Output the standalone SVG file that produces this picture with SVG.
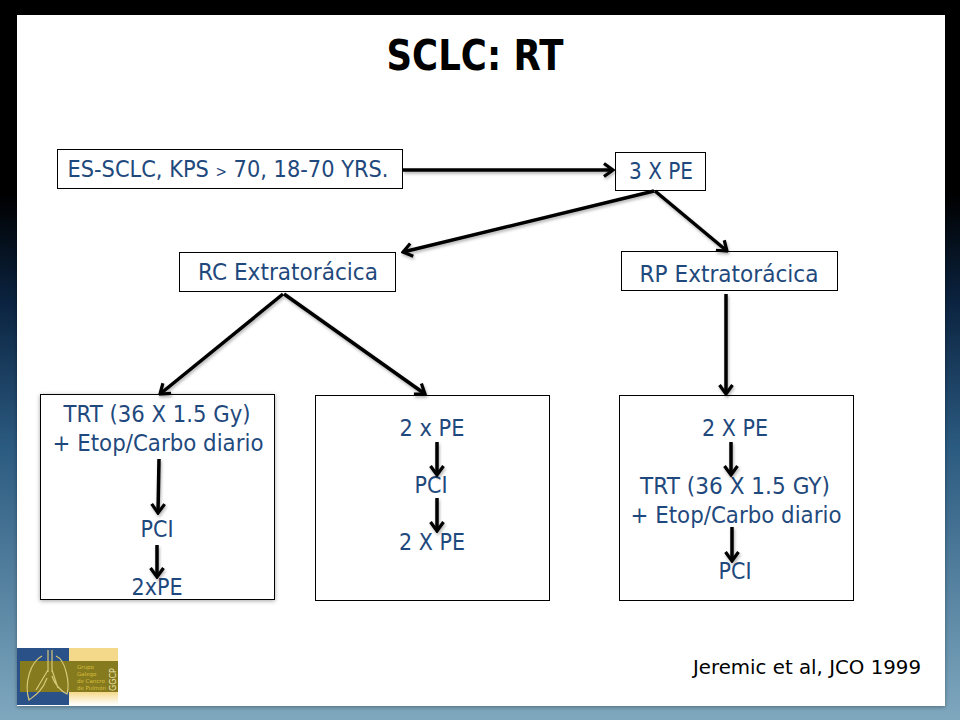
<svg xmlns="http://www.w3.org/2000/svg" width="960" height="720" viewBox="0 0 960 720">
<defs>
<linearGradient id="bg" x1="0" y1="0" x2="0" y2="1">
<stop offset="0" stop-color="#000"/><stop offset="0.27" stop-color="#000"/><stop offset="0.42" stop-color="#0b2340"/><stop offset="0.62" stop-color="#2b5a80"/><stop offset="1" stop-color="#7fa8bf"/>
</linearGradient>
<linearGradient id="logoFade" x1="0" y1="0" x2="0" y2="1"><stop offset="0" stop-color="#f5d98a"/><stop offset="1" stop-color="#fff"/></linearGradient>
<filter id="sh" x="-5%" y="-5%" width="110%" height="110%"><feDropShadow dx="0" dy="1" stdDeviation="2" flood-color="#000" flood-opacity="0.35"/></filter>
<filter id="ash" x="-30%" y="-30%" width="160%" height="160%"><feDropShadow dx="1" dy="2" stdDeviation="1.500" flood-color="#000" flood-opacity="0.3"/></filter>
<marker id="arr" viewBox="0 0 16 16" refX="14" refY="8" markerWidth="16" markerHeight="16" markerUnits="userSpaceOnUse" orient="auto">
<path d="M5 1.500 L14 8 L5 14.500" fill="none" stroke="#000" stroke-width="3.200"/>
</marker>
</defs>
<style>
.b{fill:#fff;stroke:#000;stroke-width:1}
.t{font-family:"DejaVu Sans","Noto Sans",sans-serif;font-size:23px;fill:#1f497d;text-anchor:middle}
.c{fill:none;stroke:#000;stroke-width:3.500;marker-end:url(#arr)}
.l{fill:none;stroke:#d8c878;stroke-width:1.200}
</style>
<rect width="960" height="720" fill="url(#bg)"/>
<rect x="17" y="15" width="928" height="691" fill="#fff" filter="url(#sh)"/>
<text x="475" y="70" font-family="'DejaVu Sans',sans-serif" font-weight="700" font-size="42" text-anchor="middle" textLength="177" lengthAdjust="spacingAndGlyphs" fill="#000">SCLC: RT</text>

<g id="n-es"><rect class="b" x="57.500" y="149.500" width="345" height="39"/><text class="t" x="228" y="177" textLength="321" lengthAdjust="spacingAndGlyphs">ES-SCLC, KPS <tspan font-size="15">&gt;</tspan> 70, 18-70 YRS.</text></g>
<g id="n-3xpe"><rect class="b" x="615.500" y="152.500" width="90" height="38"/><text class="t" x="661" y="179" textLength="64" lengthAdjust="spacingAndGlyphs">3 X PE</text></g>
<g id="n-rc"><rect class="b" x="179.500" y="252.500" width="216" height="39"/><text class="t" x="288" y="280" textLength="180" lengthAdjust="spacingAndGlyphs">RC Extratorácica</text></g>
<g id="n-rp"><rect class="b" x="621.500" y="251.500" width="216" height="39"/><text class="t" x="729" y="282" textLength="179" lengthAdjust="spacingAndGlyphs">RP Extratorácica</text></g>
<g id="n-a"><rect class="b" x="40.500" y="394.500" width="234" height="205" filter="url(#sh)"/>
<text class="t" x="157" y="422" textLength="187" lengthAdjust="spacingAndGlyphs">TRT (36 X 1.5 Gy)</text>
<text class="t" x="158" y="451" textLength="211" lengthAdjust="spacingAndGlyphs">+ Etop/Carbo diario</text>
<text class="t" x="157" y="537" textLength="33" lengthAdjust="spacingAndGlyphs">PCI</text>
<text class="t" x="157" y="595" textLength="51" lengthAdjust="spacingAndGlyphs">2xPE</text></g>
<g id="n-b"><rect class="b" x="315.500" y="395.500" width="234" height="205"/>
<text class="t" x="432" y="436" textLength="65" lengthAdjust="spacingAndGlyphs">2 x PE</text>
<text class="t" x="431" y="493" textLength="33" lengthAdjust="spacingAndGlyphs">PCI</text>
<text class="t" x="432" y="550" textLength="66" lengthAdjust="spacingAndGlyphs">2 X PE</text></g>
<g id="n-c"><rect class="b" x="619.500" y="395.500" width="234" height="205"/>
<text class="t" x="735" y="436" textLength="66" lengthAdjust="spacingAndGlyphs">2 X PE</text>
<text class="t" x="735" y="494" textLength="190" lengthAdjust="spacingAndGlyphs">TRT (36 X 1.5 GY)</text>
<text class="t" x="736" y="523" textLength="211" lengthAdjust="spacingAndGlyphs">+ Etop/Carbo diario</text>
<text class="t" x="735" y="579" textLength="33" lengthAdjust="spacingAndGlyphs">PCI</text></g>

<g id="connectors" filter="url(#ash)">
<path class="c" d="M403 170 H613"/>
<path class="c" d="M654 191 L403 252"/>
<path class="c" d="M655 191 L727 251"/>
<path class="c" d="M283 294 L160 394"/>
<path class="c" d="M284 294 L425 394"/>
<path class="c" d="M726 294 V394"/>
<path class="c" d="M159 459 L158 513"/>
<path class="c" d="M157 545 V577"/>
<path class="c" d="M437 442 V475"/>
<path class="c" d="M437 498 V531"/>
<path class="c" d="M731 442 V475"/>
<path class="c" d="M732 527 V561"/>
</g>

<text x="807" y="674" font-family="'DejaVu Sans',sans-serif" font-size="19" text-anchor="middle" textLength="228" lengthAdjust="spacingAndGlyphs" fill="#000">Jeremic et al, JCO 1999</text>

<g id="logo">
<rect x="17" y="648" width="52" height="57" fill="#2b5189"/>
<rect x="69" y="648" width="49" height="13" fill="#f5d98a"/>
<rect x="69" y="692" width="49" height="13" fill="url(#logoFade)"/>
<rect x="20" y="661" width="98" height="31" fill="#857a1e"/>
<path class="l" d="M48 650 V672 M52 650 V672 M48 670 L36 690 M52 670 L58 688 M42 656 C30 662 24 684 29 700 C34 696 42 692 47 678 M56 656 C66 660 70 684 67 694 C62 692 54 684 52 676"/>
<text x="77" y="669" font-family="'DejaVu Sans',sans-serif" font-size="5.500" fill="#d9bf3c">Grupo</text>
<text x="77" y="676" font-family="'DejaVu Sans',sans-serif" font-size="5.500" fill="#d9bf3c">Galego</text>
<text x="77" y="683" font-family="'DejaVu Sans',sans-serif" font-size="5.500" fill="#d9bf3c">de Cancro</text>
<text x="77" y="690" font-family="'DejaVu Sans',sans-serif" font-size="5.500" fill="#d9bf3c">de Pulmón</text>
<text transform="translate(116 691) rotate(-90)" font-family="'DejaVu Sans',sans-serif" font-size="8" fill="#f1e6b5">GGCP</text>
</g>
</svg>
